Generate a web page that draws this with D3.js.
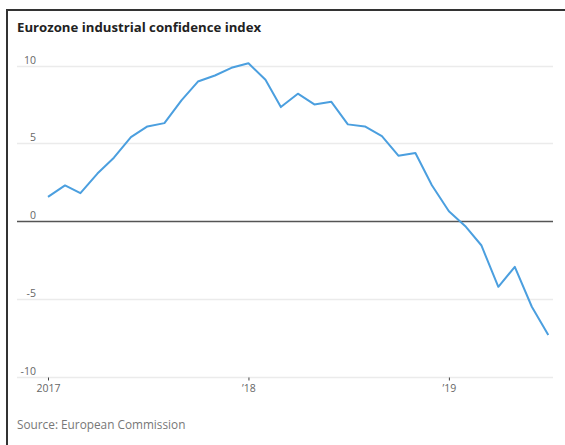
<!DOCTYPE html>
<html>
<head>
<meta charset="utf-8">
<script src="https://cdn.jsdelivr.net/npm/d3@7"></script>
<style>
  html, body { margin: 0; padding: 0; background: #fff; }
  svg { display: block; }
</style>
</head>
<body>
<svg id="chart" width="565" height="445"></svg>
<script>
// ---- Data ----
const months = [
  "2017-01","2017-02","2017-03","2017-04","2017-05","2017-06","2017-07","2017-08","2017-09","2017-10","2017-11","2017-12",
  "2018-01","2018-02","2018-03","2018-04","2018-05","2018-06","2018-07","2018-08","2018-09","2018-10","2018-11","2018-12",
  "2019-01","2019-02","2019-03","2019-04","2019-05","2019-06","2019-07"
];
const confidence = [
  1.56, 2.3, 1.8, 3.06, 4.08, 5.4, 6.09, 6.3, 7.76, 8.97, 9.36, 9.85,
  10.15, 9.08, 7.33, 8.19, 7.5, 7.67, 6.22, 6.09, 5.47, 4.21, 4.38, 2.31,
  0.64, -0.36, -1.54, -4.21, -2.93, -5.49, -7.31
];
const yTicks = [10, 5, 0, -5, -10];
const xTickDates = ["2017-01", "2018-01", "2019-01"];
const xTickLabels = ["2017", "\u201918", "\u201919"];
const title = "Eurozone industrial confidence index";
const source = "Source: European Commission";

// ---- Setup ----
const svg = d3.select("#chart");
const parse = d3.timeParse("%Y-%m");
const data = months.map((m, i) => ({ date: parse(m), value: confidence[i] }));

const x = d3.scaleTime()
  .domain([parse("2017-01"), parse("2019-07")])
  .range([48, 548.3]);
const y = d3.scaleLinear()
  .domain([-10, 10])
  .range([377, 65.5]);

const gridLeft = 17, gridRight = 553;
const font = "'Open Sans', 'Noto Sans', sans-serif";

// frame (top and left rules)
svg.append("line").attr("x1", 6).attr("x2", 565).attr("y1", 10).attr("y2", 10)
  .attr("stroke", "#333").attr("stroke-width", 2);
svg.append("line").attr("x1", 7).attr("x2", 7).attr("y1", 9).attr("y2", 445)
  .attr("stroke", "#333").attr("stroke-width", 2);

// title
svg.append("text").attr("x", 17).attr("y", 31.5)
  .attr("font-family", font).attr("font-weight", "bold").attr("font-size", 13.2)
  .attr("fill", "#222").text(title);

// gridlines
const grid = svg.append("g");
grid.selectAll("line").data(yTicks).join("line")
  .attr("x1", gridLeft).attr("x2", gridRight)
  .attr("y1", d => Math.round(y(d)) + 0.5).attr("y2", d => Math.round(y(d)) + 0.5)
  .attr("stroke", d => d === 0 ? "#555" : "#ebebeb")
  .attr("stroke-width", 1.5);

// y labels
grid.selectAll("text").data(yTicks).join("text")
  .attr("x", 36).attr("y", d => y(d) - 2)
  .attr("text-anchor", "end")
  .attr("font-family", font).attr("font-size", 10.5)
  .attr("fill", "#666")
  .text(d => d);

// x axis
const xAxis = d3.axisBottom(x)
  .tickValues(xTickDates.map(parse))
  .tickFormat((d, i) => xTickLabels[i])
  .tickSize(3).tickPadding(4);
const xg = svg.append("g").attr("transform", `translate(0,${Math.round(y(-10)) + 0.5})`).call(xAxis);
xg.select(".domain").remove();
xg.selectAll(".tick line").attr("stroke", "#444").attr("stroke-width", 1);
xg.selectAll(".tick text").attr("font-family", font).attr("font-size", 10.5).attr("fill", "#666");

// line
const line = d3.line().x(d => x(d.date)).y(d => y(d.value));
svg.append("path").datum(data)
  .attr("d", line)
  .attr("fill", "none")
  .attr("stroke", "#4b9fdf")
  .attr("stroke-width", 2)
  .attr("stroke-linejoin", "round");

// source
svg.append("text").attr("x", 17).attr("y", 429)
  .attr("font-family", font).attr("font-size", 11.8)
  .attr("fill", "#777").text(source);
</script>
</body>
</html>
